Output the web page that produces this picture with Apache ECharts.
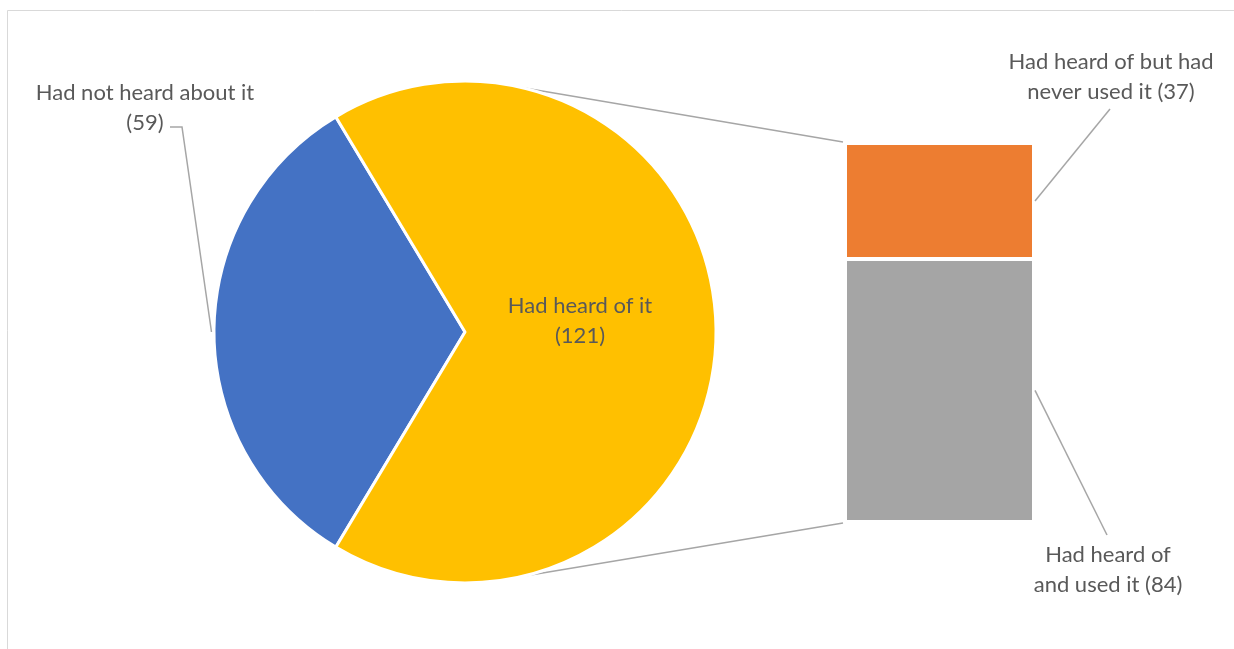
<!DOCTYPE html>
<html>
<head>
<meta charset="utf-8">
<script src="https://cdn.jsdelivr.net/npm/echarts@6/dist/echarts.min.js"></script>
<style>
html,body{margin:0;padding:0;background:#fff;}
#chart{width:1234px;height:649px;}
</style>
</head>
<body>
<div id="chart"></div>
<script>
// ---- data ----
const pieCategories = ['Had not heard about it', 'Had heard of it'];
const pieValues = [59, 121];
const barCategories = ['Had heard of but had\nnever used it', 'Had heard of\nand used it'];
const barValues = [37, 84];

// ---- layout ----
const CX = 465, CY = 332, R = 251;
const GRID = { left: 845, top: 143, width: 189, height: 379 };
const FONT = 'Lato, "Open Sans", sans-serif';
const TXT = '#595959';
const LINE = '#a6a6a6';
const FS = 22;

const chart = echarts.init(document.getElementById('chart'), null, { renderer: 'canvas' });

const blueSpan = pieValues[0] / (pieValues[0] + pieValues[1]) * 360;
const startAngle = 180 + blueSpan / 2;
const connAng = 77 * Math.PI / 180;

const labelBase = { color: TXT, fontFamily: FONT, fontSize: FS, lineHeight: 30, align: 'center', overflow: 'none' };

const option = {
  backgroundColor: '#fff',
  animation: false,
  graphic: [
    { type: 'rect', shape: { x: 7.5, y: 10.5, width: 1300, height: 700 },
      style: { fill: 'none', stroke: '#d9d9d9', lineWidth: 1 }, silent: true },
    { type: 'line', shape: { x1: CX + R * Math.cos(connAng), y1: CY - R * Math.sin(connAng),
      x2: GRID.left - 2, y2: GRID.top - 1 }, style: { stroke: LINE, lineWidth: 1.5 } },
    { type: 'line', shape: { x1: CX + R * Math.cos(connAng), y1: CY + R * Math.sin(connAng),
      x2: GRID.left - 2, y2: GRID.top + GRID.height + 1 }, style: { stroke: LINE, lineWidth: 1.5 } }
  ],
  grid: { left: GRID.left, top: GRID.top, width: GRID.width, height: GRID.height, containLabel: false },
  xAxis: { type: 'category', data: ['bar'], show: false },
  yAxis: { type: 'value', min: 0, max: barValues[0] + barValues[1], show: false },
  series: [
    {
      type: 'pie',
      center: [CX, CY],
      radius: [0, R],
      startAngle: startAngle,
      clockwise: true,
      silent: true,
      itemStyle: { borderColor: '#fff', borderWidth: 3 },
      data: [
        { name: pieCategories[0], value: pieValues[0], itemStyle: { color: '#4472c4' },
          label: { show: true, position: 'outside' },
          labelLine: { show: true, lineStyle: { color: LINE, width: 1.5 } } },
        { name: pieCategories[1], value: pieValues[1], itemStyle: { color: '#ffc000' },
          label: { show: true, position: 'inside' },
          labelLine: { show: false } }
      ],
      label: Object.assign({ formatter: '{b}\n({c})' }, labelBase),
      labelLayout: function (p) {
        if (p.dataIndex === 0) {
          return {
            x: 145, y: 108, align: 'center', verticalAlign: 'middle',
            labelLinePoints: [[170, 127], [182, 127], [p.rect.x - 1, p.rect.y + p.rect.height / 2]]
          };
        }
        return { x: 580, y: 321, align: 'center', verticalAlign: 'middle' };
      }
    },
    {
      type: 'bar', stack: 's', barWidth: '100%', silent: true,
      data: [barValues[1]],
      itemStyle: { color: '#a5a5a5', borderColor: '#fff', borderWidth: 2 },
      label: Object.assign({ show: true, position: 'right',
        formatter: function (p) { return barCategories[1] + ' (' + p.value + ')'; } }, labelBase),
      labelLayout: function () { return { x: 1108, y: 570, align: 'center', verticalAlign: 'middle' }; }
    },
    {
      type: 'bar', stack: 's', barWidth: '100%', silent: true,
      data: [barValues[0]],
      itemStyle: { color: '#ed7d31', borderColor: '#fff', borderWidth: 2 },
      label: Object.assign({ show: true, position: 'right',
        formatter: function (p) { return barCategories[0] + ' (' + p.value + ')'; } }, labelBase),
      labelLayout: function () { return { x: 1111, y: 77, align: 'center', verticalAlign: 'middle' }; }
    }
  ]
};
chart.setOption(option);

// leader lines for the bar labels, anchored at the bar segments' right-middle
const right = GRID.left + GRID.width;
const midGray = chart.convertToPixel({ gridIndex: 0 }, [0, barValues[1] / 2])[1];
const midOrange = chart.convertToPixel({ gridIndex: 0 }, [0, barValues[1] + barValues[0] / 2])[1];
chart.setOption({
  graphic: [
    { type: 'rect', shape: { x: 7.5, y: 10.5, width: 1300, height: 700 },
      style: { fill: 'none', stroke: '#d9d9d9', lineWidth: 1 }, silent: true },
    { type: 'line', shape: { x1: CX + R * Math.cos(connAng), y1: CY - R * Math.sin(connAng),
      x2: GRID.left - 2, y2: GRID.top - 1 }, style: { stroke: LINE, lineWidth: 1.5 } },
    { type: 'line', shape: { x1: CX + R * Math.cos(connAng), y1: CY + R * Math.sin(connAng),
      x2: GRID.left - 2, y2: GRID.top + GRID.height + 1 }, style: { stroke: LINE, lineWidth: 1.5 } },
    { type: 'line', shape: { x1: right + 1, y1: midOrange, x2: 1110, y2: 109 }, style: { stroke: LINE, lineWidth: 1.5 } },
    { type: 'line', shape: { x1: right + 1, y1: midGray, x2: 1107, y2: 535 }, style: { stroke: LINE, lineWidth: 1.5 } }
  ]
});
</script>
</body>
</html>
